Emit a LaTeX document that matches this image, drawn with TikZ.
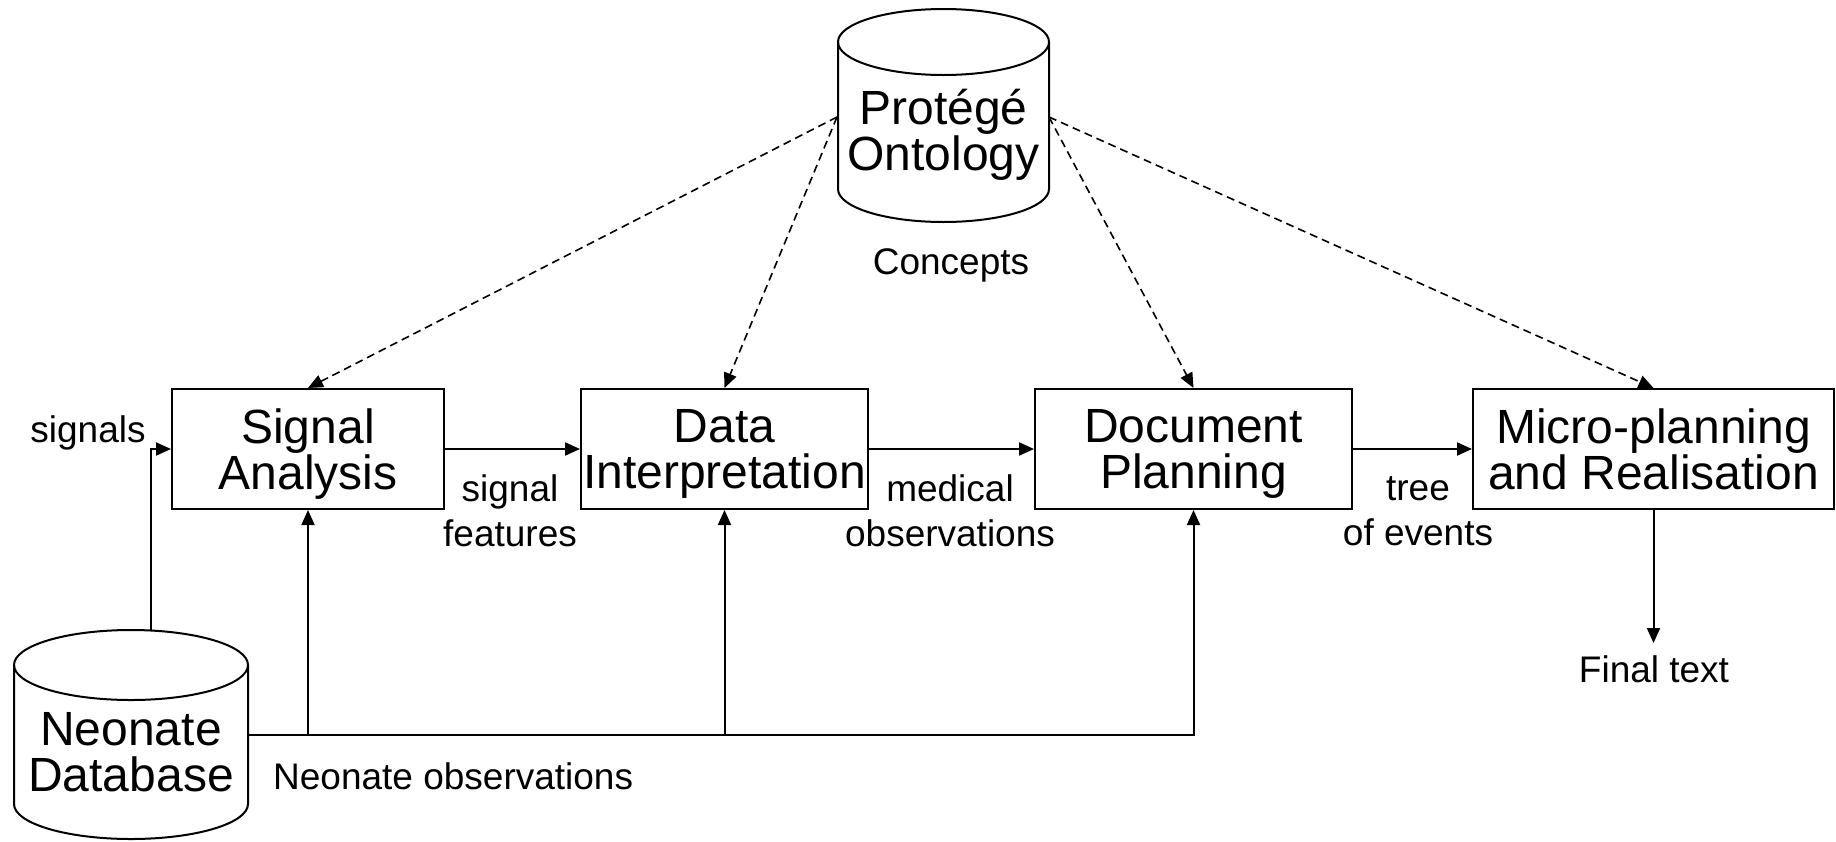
\documentclass[tikz,border=0pt]{standalone}
\usepackage{fontspec}
\setmainfont{Liberation Sans}
\usetikzlibrary{arrows.meta}
\begin{document}
\begin{tikzpicture}[x=1pt,y=-1pt,
  proc/.style={draw, line width=2pt, minimum height=120pt, inner sep=0pt},
  big/.style={align=center, inner sep=0pt, font=\fontsize{48}{46}\selectfont},
  lbl/.style={align=center, inner sep=0pt, font=\fontsize{37}{44.5}\selectfont},
  flow/.style={line width=2pt, -{Triangle[length=15pt,width=13pt]}},
  dep/.style={line width=1.6pt, dash pattern=on 8pt off 5pt, -{Triangle[length=15pt,width=13pt]}},
  solidline/.style={line width=2pt}]
\useasboundingbox (0,0) rectangle (1836,841);

% process boxes
\node[proc, minimum width=272pt] (sa) at (308,449) {};
\node[proc, minimum width=287pt] (di) at (724.5,449) {};
\node[proc, minimum width=317pt] (dp) at (1193.5,449) {};
\node[proc, minimum width=361pt] (mr) at (1653.5,449) {};
\node[big, yshift=-5pt] (saT) at (sa) {Signal\\Analysis};
\node[big, yshift=-5pt] (diT) at (di) {Data\\Interpretation};
\node[big, yshift=-5pt] (dpT) at (dp) {Document\\Planning};
\node[big, yshift=-0.5pt] (mrT) at (mr) {Micro-planning\\and Realisation};

% Protege ontology cylinder
\draw[solidline] (838,42) -- (838,189) arc[start angle=180, end angle=360, x radius=105.5pt, y radius=33pt] -- (1049,42);
\draw[solidline] (943.5,42) ellipse [x radius=105.5pt, y radius=33pt];
\node[big] (ont) at (943.5,135) {Protégé\\Ontology};
\coordinate (ontL) at (837,117);
\coordinate (ontR) at (1049,117);
\node[lbl] (concepts) at (951,265) {Concepts};

% Neonate database cylinder
\draw[solidline] (14,665) -- (14,804) arc[start angle=180, end angle=360, x radius=117pt, y radius=35pt] -- (248,665);
\draw[solidline] (131,665) ellipse [x radius=117pt, y radius=35pt];
\node[big] (db) at (131,752) {Neonate\\Database};
\coordinate (dbTop) at (151,631);
\coordinate (dbR) at (248,735);

% flows
\draw[flow] (dbTop) |- (sa.west);
\draw[flow] (sa.east) -- (di.west);
\draw[flow] (di.east) -- (dp.west);
\draw[flow] (dp.east) -- (mr.west);
\draw[flow] (dbR) -| (dp.south);
\draw[flow] (sa.south |- dbR) -- (sa.south);
\draw[flow] (di.south |- dbR) -- (di.south);
\coordinate (fin) at (1653.5,643);
\draw[flow] (mr.south) -- (fin);

% ontology dependencies
\draw[dep] (ontL) -- (sa.north);
\draw[dep] (ontL) -- (di.north);
\draw[dep] (ontR) -- (dp.north);
\draw[dep] (ontR) -- (mr.north);

% labels
\node[lbl] (lsig) at (88,432.5) {signals};
\node[lbl] (lfeat) at (510,511) {signal\\features};
\node[lbl] (lmed) at (950,511) {medical\\observations};
\node[lbl] (ltree) at (1418,511) {tree\\of events};
\node[lbl] (lfin) at (1654,669) {Final text};
\node[lbl, anchor=west] (lobs) at (273,776) {Neonate observations};
\end{tikzpicture}
\end{document}
